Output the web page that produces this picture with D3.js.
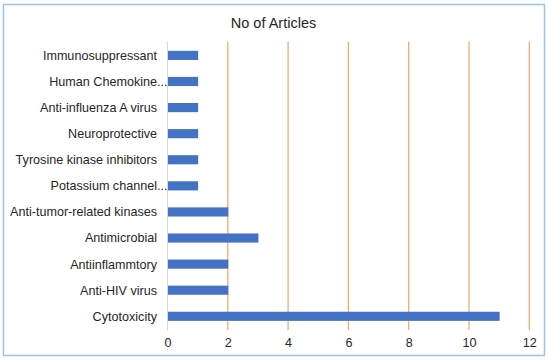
<!DOCTYPE html>
<html>
<head>
<meta charset="utf-8">
<script src="https://cdn.jsdelivr.net/npm/d3@7"></script>
<style>
  body { margin: 0; background: #fff; }
  svg text { font-family: "Liberation Sans", Arial, sans-serif; fill: #262626; }
</style>
</head>
<body>
<div id="chart"></div>
<script>
// categories listed top to bottom
var categories = ["Immunosuppressant", "Human Chemokine...", "Anti-influenza A virus", "Neuroprotective",
    "Tyrosine kinase inhibitors", "Potassium channel...", "Anti-tumor-related kinases", "Antimicrobial",
    "Antiinflammtory", "Anti-HIV virus", "Cytotoxicity"]
var articles = [1, 1, 1, 1, 1, 1, 2, 3, 2, 2, 11]
var xTicks = [0, 2, 4, 6, 8, 10, 12]
var title = "No of Articles"

var data = categories.map(function (c, i) { return { name: c, value: articles[i] } })

var svg = d3.select("#chart")
    .append("svg")
    .attr("width", 550)
    .attr("height", 363)

// outer frame
svg.append("rect")
    .attr("x", 3.5).attr("y", 4.5)
    .attr("width", 541).attr("height", 351)
    .attr("fill", "#fff")
    .attr("stroke", "#9DC3E6")
    .attr("stroke-width", 1.5)

// plot area (window.top is reserved, so prefixed names)
var plotLeft = 167.5, plotRight = 529.3, plotTop = 41.7, plotBottom = 330

var x = d3.scaleLinear()
    .domain([0, 12])
    .range([plotLeft, plotRight])

var y = d3.scaleBand()
    .domain(categories)
    .range([plotTop, plotBottom])
    .paddingInner(0.65)
    .paddingOuter(0.35)

// gridlines
svg.append("g")
    .selectAll("line")
    .data(xTicks.filter(function (d) { return d > 0 }))
    .enter().append("line")
    .attr("x1", function (d) { return x(d) })
    .attr("x2", function (d) { return x(d) })
    .attr("y1", plotTop)
    .attr("y2", plotBottom)
    .attr("stroke", "#F4A46A")
    .attr("stroke-width", 1.2)

// category axis line
svg.append("line")
    .attr("x1", x(0)).attr("x2", x(0))
    .attr("y1", plotTop).attr("y2", plotBottom)
    .attr("stroke", "#D9D9D9")
    .attr("stroke-width", 1)

// bars
svg.append("g")
    .selectAll("rect")
    .data(data)
    .enter().append("rect")
    .attr("x", x(0) + 0.5)
    .attr("y", function (d) { return y(d.name) })
    .attr("width", function (d) { return x(d.value) - x(0) })
    .attr("height", y.bandwidth())
    .attr("fill", "#4472C4")

// category labels (truncated ones let the dots spill past the edge)
var labels = svg.append("g")
    .selectAll("g")
    .data(data)
    .enter().append("g")
    .attr("transform", function (d) { return "translate(157," + (y(d.name) + y.bandwidth() / 2) + ")" })

labels.append("text")
    .attr("text-anchor", "end")
    .attr("dy", "0.35em")
    .style("font-size", "12.6px")
    .text(function (d) { return d.name.replace("...", "") })

labels.filter(function (d) { return d.name.indexOf("...") > 0 })
    .append("text")
    .attr("x", 0)
    .attr("dy", "0.35em")
    .style("font-size", "12.6px")
    .text("...")

// value axis labels
var xAxis = svg.append("g")
    .attr("transform", "translate(0," + plotBottom + ")")
    .call(d3.axisBottom(x).tickValues(xTicks).tickSize(0).tickPadding(8))
xAxis.select(".domain").remove()
xAxis.selectAll("text")
    .style("font-size", "12.6px")
    .attr("fill", "#262626")

// title
svg.append("text")
    .attr("x", 273.5)
    .attr("y", 28)
    .attr("text-anchor", "middle")
    .style("font-size", "14.5px")
    .text(title)
</script>
</body>
</html>
